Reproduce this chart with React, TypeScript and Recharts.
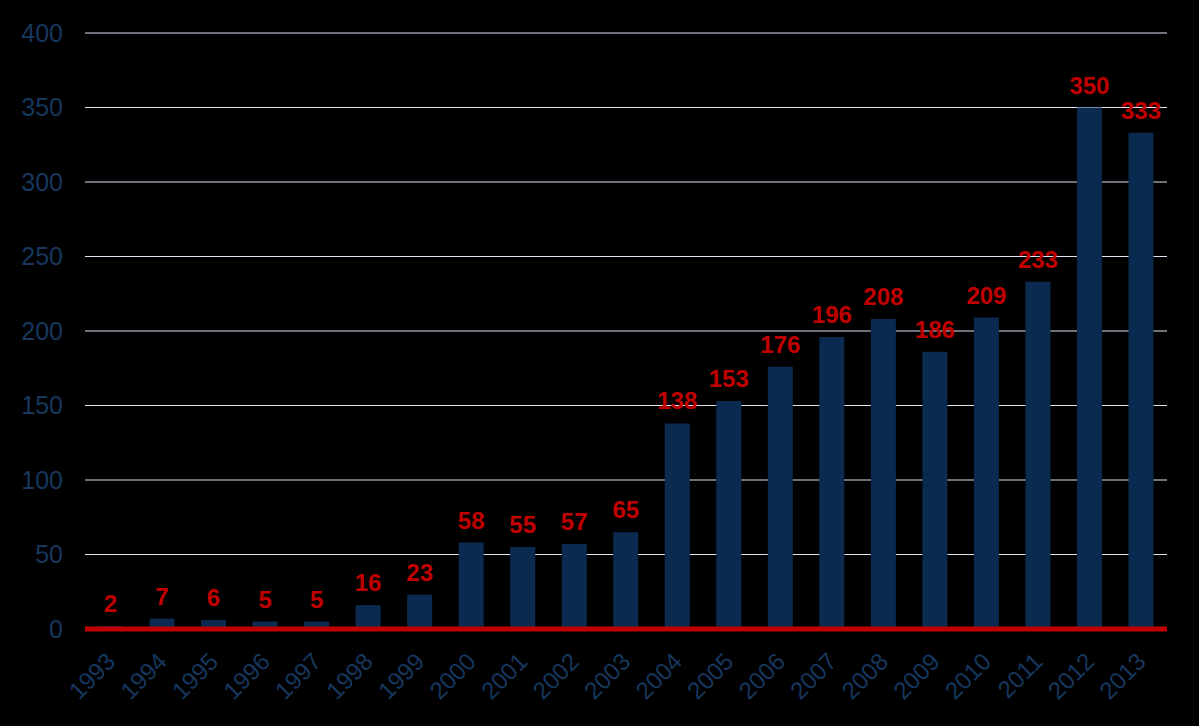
import React from 'react';
import { BarChart, Bar, XAxis, YAxis, CartesianGrid, LabelList } from 'recharts';

const years = ['1993', '1994', '1995', '1996', '1997', '1998', '1999', '2000', '2001', '2002', '2003',
  '2004', '2005', '2006', '2007', '2008', '2009', '2010', '2011', '2012', '2013'];
const counts = [2, 7, 6, 5, 5, 16, 23, 58, 55, 57, 65, 138, 153, 176, 196, 208, 186, 209, 233, 350, 333];
const yTicks = [0, 50, 100, 150, 200, 250, 300, 350, 400];

const data = years.map((y, i) => ({ year: y, value: counts[i] }));

const FONT = '"Liberation Sans", Arial, sans-serif';
const AXIS_BLUE = '#17375E';

const YearTick = (props: any) => {
  const { x, y, payload } = props;
  const tx = x + 6;
  const ty = y + 26;
  return (
    <text
      x={tx}
      y={ty}
      transform={`rotate(-45, ${tx}, ${ty})`}
      textAnchor="end"
      fill={AXIS_BLUE}
      fontSize={24}
      fontFamily={FONT}
    >
      {payload.value}
    </text>
  );
};

export default function App() {
  return (
    <div style={{ position: 'fixed', left: 0, top: 0, width: 1199, height: 726, background: '#000' }}>
      <BarChart
        width={1199}
        height={726}
        data={data}
        margin={{ top: 33, right: 32, left: 0, bottom: 0 }}
      >
        <CartesianGrid
          vertical={false}
          stroke="#DCE4F4"
          strokeWidth={1}
          horizontal={{ shapeRendering: 'crispEdges' } as any}
        />
        <XAxis
          dataKey="year"
          height={97}
          tick={<YearTick />}
          tickLine={false}
          axisLine={{ stroke: '#C00000', strokeWidth: 5 }}
          interval={0}
        />
        <YAxis
          width={85}
          domain={[0, 400]}
          ticks={yTicks}
          tickLine={false}
          axisLine={false}
          tickSize={0}
          tickMargin={22}
          tick={{ fill: AXIS_BLUE, fontSize: 25, fontFamily: FONT }}
        />
        <Bar dataKey="value" fill="#0B2A4F" barSize={25} isAnimationActive={false}>
          <LabelList
            dataKey="value"
            position="top"
            offset={14}
            fill="#C00000"
            fontSize={24}
            fontWeight="bold"
            fontFamily={FONT}
          />
        </Bar>
      </BarChart>
    </div>
  );
}
